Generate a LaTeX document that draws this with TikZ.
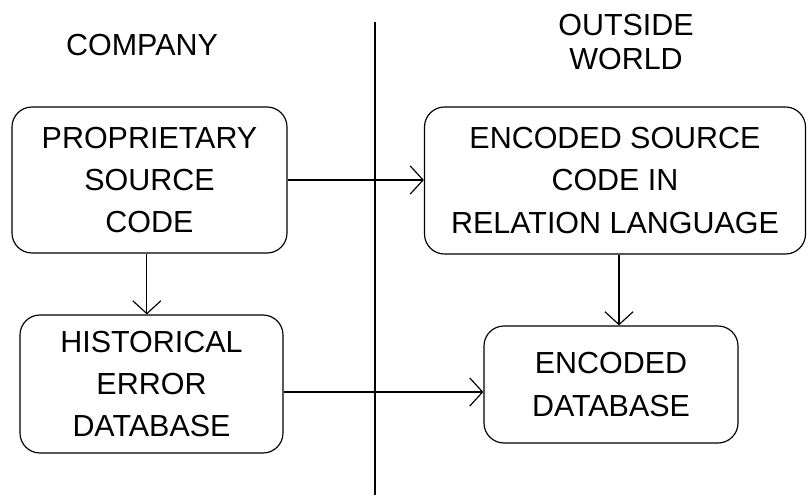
\documentclass[tikz,border=0pt]{standalone}
\usepackage{fontspec}
\setmainfont{Liberation Sans}
\usetikzlibrary{arrows.meta}

\tikzset{
  box/.style={draw, rounded corners=0.6cm, line width=1pt, align=center,
    font=\fontsize{26}{36}\selectfont},
  head/.style={align=center, font=\fontsize{26}{29}\selectfont},
  flow/.style={line width=1pt, -{Straight Barb[length=11pt,width=24pt,line width=1pt]}}
}

\begin{document}
\begin{tikzpicture}[x=0.03cm,y=-0.03cm]
  \useasboundingbox (0,0) rectangle (808,499);
  % divider between the two sides
  \coordinate (top) at (375,22);
  \coordinate (bot) at (375,495);
  \draw[line width=1pt] (top) -- (bot);
  \node[head] (company) at (142,45) {COMPANY};
  \node[head] (outside) at (626,42) {OUTSIDE\\WORLD};
  % boxes
  \node[box, minimum width=8.25cm, minimum height=4.38cm] (prop) at (149.5,180)
    {PROPRIETARY\\SOURCE\\CODE};
  \node[box, minimum width=11.43cm, minimum height=4.41cm] (encsrc) at (615,180.5)
    {ENCODED SOURCE\\CODE IN\\RELATION LANGUAGE};
  \node[box, minimum width=7.89cm, minimum height=4.14cm] (hist) at (151.5,384)
    {HISTORICAL\\ERROR\\DATABASE};
  \node[box, minimum width=7.62cm, minimum height=3.51cm] (encdb) at (611,384.5)
    {ENCODED\\DATABASE};
  % arrows
  \draw[flow] (prop.east) -- (prop.east -| encsrc.west);
  \draw[flow] ([xshift=-0.08cm]prop.south) -- ([xshift=-0.08cm]prop.south |- hist.north);
  \draw[flow] ([xshift=0.12cm]encsrc.south) -- ([xshift=0.12cm]encsrc.south |- encdb.north);
  \draw[flow] ([yshift=-0.24cm]hist.east) -- ([yshift=-0.24cm]hist.east -| encdb.west);
\end{tikzpicture}
\end{document}
